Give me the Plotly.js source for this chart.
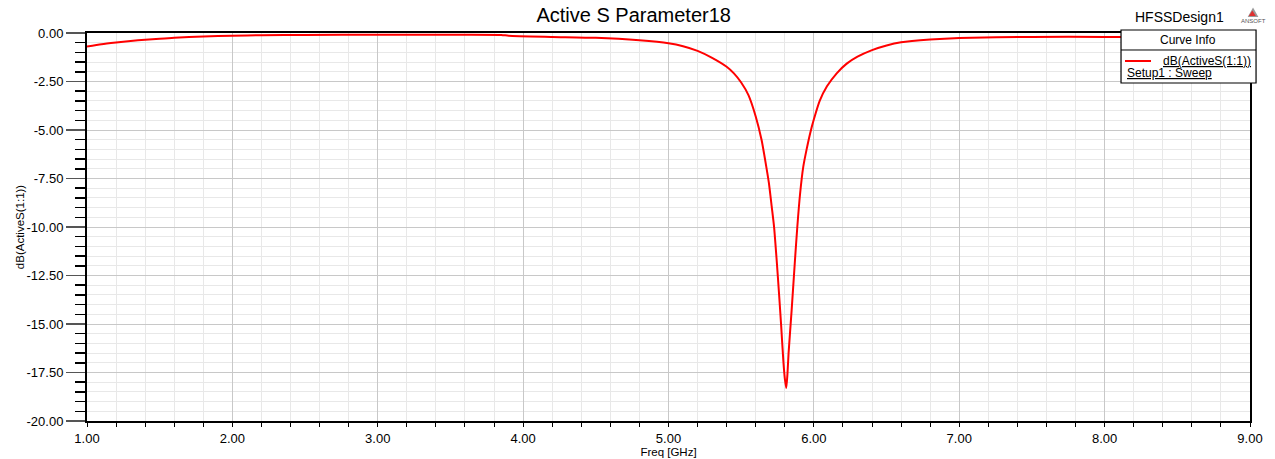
<!DOCTYPE html>
<html>
<head>
<meta charset="utf-8">
<script src="https://cdn.plot.ly/plotly-3.0.1.min.js"></script>
<style>html,body{margin:0;padding:0;background:#fff;}#chart{width:1275px;height:459px;}</style>
</head>
<body>
<div id="chart"></div>
<script>
// Frequency sweep (GHz)
const freqGHz = [1.0, 1.1, 1.2, 1.3, 1.4, 1.5, 1.6, 1.8, 2.0, 2.2, 2.5, 3.0, 3.5, 3.85, 3.9, 4.2, 4.5, 4.8, 5.0, 5.1, 5.2, 5.3, 5.4, 5.45, 5.5, 5.55, 5.6, 5.64, 5.665, 5.69, 5.71, 5.726, 5.744, 5.76, 5.775, 5.79, 5.80, 5.81, 5.818, 5.826, 5.847, 5.87, 5.886, 5.905, 5.927, 5.95, 5.975, 6.0, 6.04, 6.09, 6.157, 6.226, 6.3, 6.4, 6.5, 6.6, 6.8, 7.0, 7.5, 8.0, 8.5, 9.0];
// dB(ActiveS(1:1))
const activeS11dB = [-0.70, -0.58, -0.49, -0.41, -0.35, -0.29, -0.24, -0.18, -0.14, -0.11, -0.10, -0.09, -0.09, -0.10, -0.14, -0.20, -0.25, -0.38, -0.53, -0.68, -0.92, -1.28, -1.74, -2.08, -2.55, -3.20, -4.30, -5.50, -6.55, -7.70, -8.95, -9.98, -11.70, -13.40, -15.10, -16.90, -17.80, -18.30, -17.60, -16.50, -14.30, -11.70, -10.00, -8.30, -6.90, -6.00, -5.15, -4.45, -3.50, -2.75, -2.08, -1.58, -1.22, -0.88, -0.64, -0.48, -0.34, -0.26, -0.20, -0.20, -0.22, -0.25];

const xTickVals = [1, 2, 3, 4, 5, 6, 7, 8, 9];
const xTickText = ["1.00", "2.00", "3.00", "4.00", "5.00", "6.00", "7.00", "8.00", "9.00"];
const yTickVals = [0, -2.5, -5, -7.5, -10, -12.5, -15, -17.5, -20];
const yTickText = ["0.00", "-2.50", "-5.00", "-7.50", "-10.00", "-12.50", "-15.00", "-17.50", "-20.00"];

const chartTitle = "Active S Parameter18";
const designName = "HFSSDesign1";
const xTitle = "Freq [GHz]";
const yTitle = "dB(ActiveS(1:1))";
const curveName = "dB(ActiveS(1:1))";
const setupName = "Setup1 : Sweep";

const FONT = "Liberation Sans, Arial, sans-serif";

const trace = {
  x: freqGHz, y: activeS11dB, type: 'scatter', mode: 'lines',
  line: {color: '#ff0000', width: 2, shape: 'spline', smoothing: 0.6},
  name: curveName, showlegend: false, hoverinfo: 'x+y'
};

const layout = {
  width: 1275, height: 459,
  margin: {l: 87, r: 25, t: 33, b: 38, pad: 0},
  paper_bgcolor: '#ffffff', plot_bgcolor: '#ffffff',
  font: {family: FONT, color: '#000', size: 13},
  showlegend: false,
  title: {text: chartTitle, font: {family: FONT, size: 20, color: '#000'}, xref: 'container', x: 0.497, xanchor: 'center', yref: 'container', y: 0.967, yanchor: 'middle'},
  xaxis: {
    range: [1, 9], tickmode: 'array', tickvals: xTickVals, ticktext: xTickText,
    showgrid: true, gridcolor: '#c8c8c8', gridwidth: 1,
    showline: true, linecolor: '#000', linewidth: 2, mirror: true,
    ticks: 'outside', ticklen: 4, tickcolor: '#000', tickwidth: 1,
    tickfont: {family: FONT, size: 13, color: '#000'},
    zeroline: false,
    minor: {tickmode: 'linear', tick0: 1, dtick: 0.2, ticks: 'outside', ticklen: 4, tickcolor: '#000', showgrid: true, gridcolor: '#e8e8e8', gridwidth: 1},
    title: {text: xTitle, font: {family: FONT, size: 11.5, color: '#000'}, standoff: 2}
  },
  yaxis: {
    range: [-20, 0], tickmode: 'array', tickvals: yTickVals, ticktext: yTickText,
    showgrid: true, gridcolor: '#c8c8c8', gridwidth: 1,
    showline: true, linecolor: '#000', linewidth: 2, mirror: true,
    ticks: 'outside', ticklen: 19, tickcolor: '#555', tickwidth: 1.5,
    tickfont: {family: FONT, size: 13, color: '#000'},
    zeroline: false,
    minor: {tickmode: 'linear', tick0: 0, dtick: 0.5, ticks: 'outside', ticklen: 10, tickcolor: '#000', showgrid: true, gridcolor: '#e8e8e8', gridwidth: 1},
    title: {text: yTitle, font: {family: FONT, size: 11.5, color: '#000'}, standoff: 0}
  },
  shapes: [
    // Curve Info box
    {type: 'rect', xref: 'paper', yref: 'paper', x0: 0.8891, x1: 1.0052, y0: 0.8711, y1: 1.0077, line: {color: '#000', width: 1.2}, fillcolor: '#ffffff', layer: 'above'},
    {type: 'line', xref: 'paper', yref: 'paper', x0: 0.8891, x1: 1.0052, y0: 0.9562, y1: 0.9562, line: {color: '#000', width: 1}, layer: 'above'},
    {type: 'line', xref: 'paper', yref: 'paper', x0: 0.8925, x1: 0.9149, y0: 0.9278, y1: 0.9278, line: {color: '#ff0000', width: 2}, layer: 'above'},
    // ANSOFT logo triangle
    {type: 'path', xref: 'paper', yref: 'paper', path: 'M 1.0026 1.066 L 0.9980 1.041 L 1.0072 1.041 Z', fillcolor: '#9a9a9a', line: {width: 0}, layer: 'above'},
    {type: 'path', xref: 'paper', yref: 'paper', path: 'M 1.0020 1.058 L 0.9990 1.044 L 1.0050 1.044 Z', fillcolor: '#e03030', line: {width: 0}, layer: 'above'}
  ],
  annotations: [
    {text: designName, xref: 'paper', yref: 'paper', x: 0.9794, y: 1.042, xanchor: 'right', yanchor: 'middle', showarrow: false, font: {family: FONT, size: 14, color: '#000'}},
    {text: 'ANSOFT', xref: 'paper', yref: 'paper', x: 1.0026, y: 1.031, xanchor: 'center', yanchor: 'middle', showarrow: false, font: {family: FONT, size: 6, color: '#555'}},
    {text: 'Curve Info', xref: 'paper', yref: 'paper', x: 0.9471, y: 0.981, xanchor: 'center', yanchor: 'middle', showarrow: false, font: {family: FONT, size: 12, color: '#000'}},
    {text: '<u>' + curveName + '</u>', xref: 'paper', yref: 'paper', x: 0.9235, y: 0.929, xanchor: 'left', yanchor: 'middle', showarrow: false, font: {family: FONT, size: 12, color: '#000'}},
    {text: '<u>' + setupName + '</u>', xref: 'paper', yref: 'paper', x: 0.8925, y: 0.897, xanchor: 'left', yanchor: 'middle', showarrow: false, font: {family: FONT, size: 12, color: '#000'}}
  ]
};

Plotly.newPlot('chart', [trace], layout, {displayModeBar: false, staticPlot: true});
</script>
</body>
</html>
